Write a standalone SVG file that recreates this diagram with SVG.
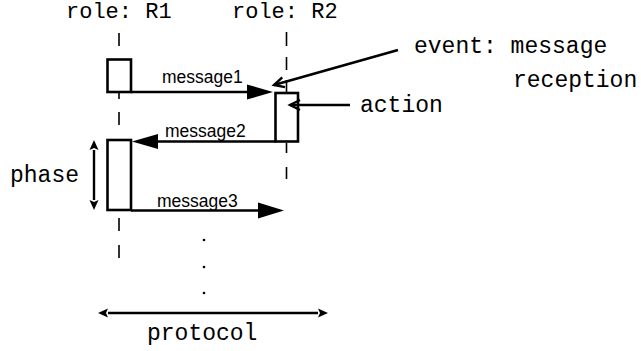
<svg xmlns="http://www.w3.org/2000/svg" width="641" height="351" viewBox="0 0 641 351">
  <style>
    .mono { font-family: "Liberation Mono", "Courier New", monospace; font-size: 23px; fill: #000; }
    .role { font-size: 22px; }
    .sans { font-family: "Liberation Sans", Arial, sans-serif; font-size: 17.5px; fill: #000; }
    .life { stroke: #000; stroke-width: 1.6; fill: none; }
    .act { stroke: #000; stroke-width: 2.6; fill: #fff; }
    .msg { stroke: #000; stroke-width: 2.6; fill: none; }
    .note { stroke: #000; stroke-width: 2.6; fill: none; }
    .span { stroke: #000; stroke-width: 2.4; fill: none; }
  </style>
  <defs>
    <marker id="solid" markerUnits="userSpaceOnUse" markerWidth="1" markerHeight="1" refX="0" refY="0" orient="auto" overflow="visible">
      <path d="M0,-7.5 L26,0 L0,7.5 Z" fill="#000"/>
    </marker>
    <marker id="solidL" markerUnits="userSpaceOnUse" markerWidth="1" markerHeight="1" refX="0" refY="0" orient="auto" overflow="visible">
      <path d="M0,-8 L26,0 L0,8 Z" fill="#000"/>
    </marker>
    <marker id="small" markerUnits="userSpaceOnUse" markerWidth="1" markerHeight="1" refX="0" refY="0" orient="auto-start-reverse" overflow="visible">
      <path d="M0,-4.5 L10,0 L0,4.5 L2,0 Z" fill="#000"/>
    </marker>
    <marker id="open" markerUnits="userSpaceOnUse" markerWidth="1" markerHeight="1" refX="0" refY="0" orient="auto" overflow="visible">
      <path d="M-10,-5 L0,0 L-10,5" fill="none" stroke="#000" stroke-width="2.4"/>
    </marker>
  </defs>

  <!-- lifelines -->
  <g id="lifeline-R1">
    <text class="mono role" x="66" y="18">role: R1</text>
    <path class="life" d="M119,33 V46 M119,93 V99 M119,112 V125 M119,218 V231 M119,245 V258"/>
  </g>
  <g id="lifeline-R2">
    <text class="mono role" x="232" y="18">role: R2</text>
    <path class="life" d="M286.5,32 V46 M286.5,57 V70 M286.5,80 V93 M286.5,143 V153 M286.5,167 V179"/>
  </g>

  <!-- activations -->
  <g id="act-R1-1"><rect class="act" x="107.5" y="59.5" width="23.5" height="32.5"/></g>
  <g id="act-R2-1"><rect class="act" x="275.5" y="93" width="22.5" height="48.5"/></g>
  <g id="act-R1-2"><rect class="act" x="107.5" y="140" width="23.5" height="70"/></g>

  <!-- messages and annotations -->
  <g id="connectors">
    <line class="msg" x1="131" y1="92" x2="247" y2="92" marker-end="url(#solid)"/>
    <line class="msg" x1="275.5" y1="141.5" x2="158" y2="141.5" marker-end="url(#solid)"/>
    <line class="msg" x1="131" y1="210.5" x2="258" y2="210.5" marker-end="url(#solidL)"/>
    <line class="note" x1="398" y1="50" x2="274" y2="85" marker-end="url(#open)"/>
    <line class="note" x1="350" y1="105" x2="290" y2="105" marker-end="url(#open)"/>
    <line class="span" x1="94" y1="150" x2="94" y2="200" marker-start="url(#small)" marker-end="url(#small)"/>
    <line class="span" x1="108" y1="313" x2="318" y2="313" marker-start="url(#small)" marker-end="url(#small)"/>
  </g>

  <!-- labels -->
  <g id="labels">
    <text class="sans" x="162" y="83">message1</text>
    <text class="sans" x="165" y="137">message2</text>
    <text class="sans" x="157" y="207">message3</text>
    <text class="mono" x="414" y="53">event: message</text>
    <text class="mono" x="513" y="87">reception</text>
    <text class="mono" x="360" y="112">action</text>
    <text class="mono" x="10" y="182">phase</text>
    <text class="mono" x="147" y="340">protocol</text>
  </g>

  <!-- continuation dots -->
  <g id="ellipsis" fill="#000">
    <circle cx="204" cy="240" r="1.3"/>
    <circle cx="204" cy="267" r="1.3"/>
    <circle cx="204" cy="293" r="1.3"/>
  </g>
</svg>
